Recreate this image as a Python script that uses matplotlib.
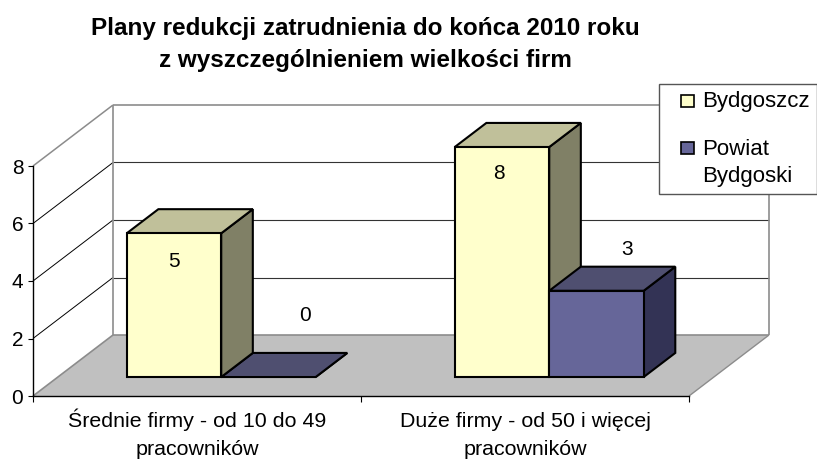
import matplotlib
matplotlib.use("Agg")
import matplotlib.pyplot as plt
from matplotlib.patches import Polygon, Rectangle

title = "Plany redukcji zatrudnienia do końca 2010 roku\nz wyszczególnieniem wielkości firm"
categories = ["Średnie firmy - od 10 do 49\npracowników", "Duże firmy - od 50 i więcej\npracowników"]
series_names = ["Bydgoszcz", "Powiat\nBydgoski"]
bydgoszcz = [5, 8]
powiat = [0, 3]
y_ticks = [0, 2, 4, 6, 8]

W, H = 817, 461
plt.rcParams['font.family'] = ['Liberation Sans', 'DejaVu Sans']

fig = plt.figure(figsize=(W / 100, H / 100), dpi=100)
# axes box is the front plane of the 3D chart
ax = fig.add_axes([33 / W, 1 - 396 / H, 656 / W, 230 / H])
ax.set_xlim(0, 2)
ax.set_ylim(0, 8)
ax.patch.set_visible(False)

# depth offset of the whole chart, in data units
DX = 80 / 328
DY = 61 / 28.75


def pt(x, y, d=0):
    return (x + d * DX, y + d * DY)


def poly(points, fc, ec='none', lw=0, z=1):
    ax.add_patch(Polygon(points, closed=True, fc=fc, ec=ec, lw=lw, zorder=z,
                         clip_on=False, joinstyle='miter'))


def line(a, b, color, lw, z=2):
    ax.plot([a[0], b[0]], [a[1], b[1]], color=color, lw=lw, zorder=z, clip_on=False,
            solid_capstyle='butt')


# floor
poly([pt(0, 0), pt(2, 0), pt(2, 0, 1), pt(0, 0, 1)], '#C0C0C0')

# grid on the back wall and the side wall
for v in y_ticks[1:-1]:
    line(pt(0, v), pt(0, v, 1), 'black', 0.7)
    line(pt(0, v, 1), pt(2, v, 1), '#333333', 0.8)

GRAY = '#8C8C8C'
line(pt(0, 8), pt(0, 8, 1), GRAY, 1.1)
line(pt(0, 8, 1), pt(2, 8, 1), GRAY, 1.2)
line(pt(0, 0), pt(0, 0, 1), GRAY, 1.2)
line(pt(0, 0, 1), pt(0, 8, 1), GRAY, 1.2)
line(pt(0, 0, 1), pt(2, 0, 1), GRAY, 1.2)
line(pt(2, 0, 1), pt(2, 8, 1), GRAY, 1.2)
line(pt(2, 0), pt(2, 0, 1), GRAY, 1.0)

# bars
BAR_W = 0.288
D0, D1 = 0.311, 0.706
COLORS = [('#FFFFCC', '#C0C09A', '#808066'), ('#666699', '#4F4F70', '#333355')]


def bar3d(x, v, colors, z):
    front, top, side = colors
    kw = dict(ec='black', lw=1.5, z=z)
    y0 = 0
    poly([pt(x + BAR_W, y0, D0), pt(x + BAR_W, y0, D1), pt(x + BAR_W, v, D1), pt(x + BAR_W, v, D0)], side, **kw)
    poly([pt(x, v, D0), pt(x + BAR_W, v, D0), pt(x + BAR_W, v, D1), pt(x, v, D1)], top, **kw)
    if v > 0:
        poly([pt(x, y0, D0), pt(x + BAR_W, y0, D0), pt(x + BAR_W, v, D0), pt(x, v, D0)], front, **kw)


for i in range(2):
    x0 = i + 0.21
    if i == 0:
        # the zero bar sits behind the neighbouring column
        bar3d(x0 + BAR_W, powiat[i], COLORS[1], 3)
        bar3d(x0, bydgoszcz[i], COLORS[0], 4)
    else:
        bar3d(x0, bydgoszcz[i], COLORS[0], 3)
        bar3d(x0 + BAR_W, powiat[i], COLORS[1], 4)

# data labels, offsets in pixels from the front top corner centre of each bar
label_offsets = {(0, 0): (0, -28), (0, 1): (37, 62), (1, 0): (-3, -26), (1, 1): (31, 41)}
for s, vals in enumerate([bydgoszcz, powiat]):
    for i, v in enumerate(vals):
        off = label_offsets[(i, s)]
        xc = i + 0.21 + BAR_W * s + BAR_W / 2
        ax.annotate(str(v), pt(xc, v, D0), xytext=(off[0] * 0.72, off[1] * 0.72),
                    textcoords='offset points', ha='center', va='center',
                    fontsize=15, color='black', zorder=6, annotation_clip=False)

# axes
for name in ['top', 'right']:
    ax.spines[name].set_visible(False)
for name in ['left', 'bottom']:
    ax.spines[name].set_linewidth(1.0)
    ax.spines[name].set_zorder(5)
ax.set_yticks(y_ticks)
ax.tick_params(axis='y', length=3.5, width=0.8, labelsize=15, pad=3.5)
ax.set_xticks([0, 1, 2])
ax.set_xticklabels([])
ax.set_xticks([0.5, 1.5], categories, minor=True)
ax.tick_params(axis='x', which='major', length=4.5, width=0.8)
# baseline alignment keeps both labels level even though one has a tall accent
ax.tick_params(axis='x', which='minor', length=0, labelsize=15.4, pad=42.6)
for t in ax.get_xticklabels(minor=True):
    t.set_linespacing(1.62)
    t.set_verticalalignment('baseline')

# title
fig.text(365 / W, 1 - 44.5 / H, title, ha='center', va='center', fontsize=17.5,
         fontweight='bold', linespacing=1.48)

# legend box, in pixels of the figure
px = lambda x, y: (x / W, 1 - y / H)
fig.add_artist(Rectangle(px(659, 194), 158 / W, 110 / H, transform=fig.transFigure,
                         fc='white', ec='#555555', lw=1.0, zorder=10))
for yk, yt, name, col in zip([95, 142], [101.5, 163], series_names, ['#FFFFCC', '#666699']):
    fig.add_artist(Rectangle(px(681, yk + 12), 13 / W, 12 / H, transform=fig.transFigure,
                             fc=col, ec='black', lw=1.2, zorder=11))
    fig.text(702 / W, 1 - yt / H, name, ha='left', va='center', fontsize=16,
             linespacing=1.4, zorder=11)

fig.savefig("out.png", dpi=100)
